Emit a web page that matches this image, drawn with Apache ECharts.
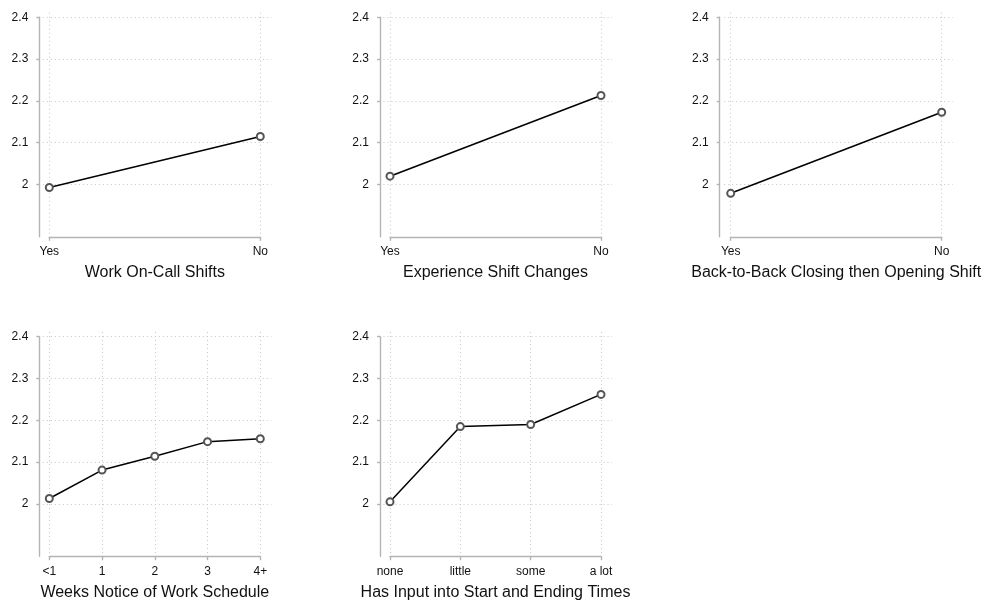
<!DOCTYPE html>
<html>
<head>
<meta charset="utf-8">
<script src="https://cdn.jsdelivr.net/npm/echarts@6/dist/echarts.min.js"></script>
<style>
html,body{margin:0;padding:0;background:#fff;}
#chart{width:985px;height:602px;}
</style>
</head>
<body>
<div id="chart"></div>
<script>
// ---- data ----
const yesNoCats = ['Yes', 'No'];
const onCallVals = [1.993, 2.115];
const shiftChangeVals = [2.020, 2.213];
const backToBackVals = [1.979, 2.173];
const weeksCats = ['<1', '1', '2', '3', '4+'];
const weeksVals = [2.013, 2.081, 2.114, 2.149, 2.156];
const inputCats = ['none', 'little', 'some', 'a lot'];
const inputVals = [2.005, 2.185, 2.190, 2.262];
const yTicks = [2, 2.1, 2.2, 2.3, 2.4];
const yMin = 1.875;
const yMax = 2.4;
const titles = ['Work On-Call Shifts', 'Experience Shift Changes', 'Back-to-Back Closing then Opening Shift',
                'Weeks Notice of Work Schedule', 'Has Input into Start and Ending Times'];

// ---- layout ----
const colLeft = [49.3, 390, 730.7];
const axisOffset = [10, 10, 11];
const plotW = 211;
const rowTop = [17.3, 336.7];
const plotH = 219.5;
const gridExtraTop = 4.6;
const FONT = 'Liberation Sans, Arial, sans-serif';
const AXIS_COLOR = '#b4b4b4';
const GRID_LINE = {color: '#c4c4c4', width: 1, type: [1, 3]};

const panels = [
  {cats: yesNoCats, vals: onCallVals, title: titles[0], col: 0, row: 0},
  {cats: yesNoCats, vals: shiftChangeVals, title: titles[1], col: 1, row: 0},
  {cats: yesNoCats, vals: backToBackVals, title: titles[2], col: 2, row: 0},
  {cats: weeksCats, vals: weeksVals, title: titles[3], col: 0, row: 1},
  {cats: inputCats, vals: inputVals, title: titles[4], col: 1, row: 1}
];

const grid = [], xAxis = [], yAxis = [], series = [];
const gridFrac = (yMax - yTicks[0]) / (yMax - yMin);

panels.forEach((p) => {
  const left = colLeft[p.col], top = rowTop[p.row];
  // background grid: horizontal dotted gridlines
  const hIdx = grid.length;
  grid.push({left: left - 6.5, top: top, width: plotW + 17.5, height: plotH * gridFrac});
  xAxis.push({gridIndex: hIdx, type: 'value', show: false, min: 0, max: 1});
  yAxis.push({
    gridIndex: hIdx, type: 'value', min: yTicks[0], max: yMax, interval: 0.1,
    axisLine: {show: false}, axisTick: {show: false}, axisLabel: {show: false},
    splitLine: {show: true, lineStyle: GRID_LINE}
  });
  // background grid: vertical dotted gridlines (reach slightly above top)
  const vIdx = grid.length;
  grid.push({left: left, top: top - gridExtraTop, width: plotW, height: plotH + gridExtraTop});
  xAxis.push({
    gridIndex: vIdx, type: 'category', data: p.cats, boundaryGap: false,
    axisLine: {show: false}, axisTick: {show: false}, axisLabel: {show: false},
    splitLine: {show: true, lineStyle: GRID_LINE}
  });
  yAxis.push({gridIndex: vIdx, type: 'value', show: false, min: 0, max: 1, splitLine: {show: false}});
  // data grid
  const gi = grid.length;
  grid.push({left: left, top: top, width: plotW, height: plotH});
  xAxis.push({
    gridIndex: gi, type: 'category', data: p.cats, boundaryGap: false,
    axisLine: {show: true, lineStyle: {color: AXIS_COLOR, width: 1.4}},
    axisTick: {show: true, length: 4, lineStyle: {color: AXIS_COLOR, width: 1.4}},
    axisLabel: {color: '#111', fontFamily: FONT, fontSize: 12, margin: 9},
    splitLine: {show: false},
    name: p.title, nameLocation: 'middle', nameGap: 28,
    nameTextStyle: {color: '#111', fontFamily: FONT, fontSize: 16}
  });
  yAxis.push({
    gridIndex: gi, type: 'value', min: yMin, max: yMax, offset: axisOffset[p.col],
    axisLine: {show: true, lineStyle: {color: AXIS_COLOR, width: 1.4}},
    axisTick: {show: true, length: 3, customValues: yTicks, lineStyle: {color: AXIS_COLOR, width: 1.4}},
    axisLabel: {color: '#111', fontFamily: FONT, fontSize: 12, margin: 11, customValues: yTicks},
    splitLine: {show: false}
  });
  series.push({
    type: 'line', xAxisIndex: gi, yAxisIndex: gi, data: p.vals,
    symbol: 'emptyCircle', symbolSize: 7,
    lineStyle: {color: '#000', width: 1.5},
    itemStyle: {color: '#555', borderColor: '#555', borderWidth: 1.2},
    silent: true, animation: false, z: 3
  });
});

const chart = echarts.init(document.getElementById('chart'), null, {renderer: 'canvas'});
chart.setOption({
  backgroundColor: '#fff',
  animation: false,
  grid, xAxis, yAxis, series
});
</script>
</body>
</html>
